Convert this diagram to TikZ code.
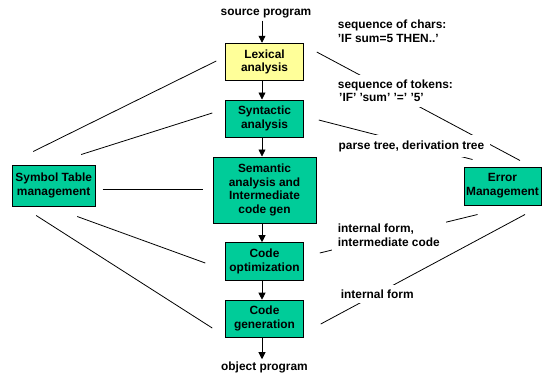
\documentclass[tikz,border=0pt]{standalone}
\usepackage{fontspec}
\setmainfont{Liberation Sans}
\usetikzlibrary{arrows.meta}
\definecolor{boxgreen}{RGB}{0,204,153}
\definecolor{boxyellow}{RGB}{255,255,153}
\begin{document}
\begin{tikzpicture}[x=1pt,y=-1pt,
  every node/.style={font=\fontsize{11.9}{13.8}\selectfont\bfseries},
  phase/.style={draw=black, line width=1pt, fill=boxgreen, align=center, inner sep=0pt},
  lbl/.style={align=left, anchor=west, fill=white, inner xsep=6pt, inner ysep=5pt},
  endtxt/.style={inner sep=2pt},
  link/.style={line width=0.8pt},
  flow/.style={line width=0.8pt, -{Triangle[width=7pt,length=7pt]}}
]
\useasboundingbox (0,0) rectangle (543,376);
% boxes
\node[phase, fill=boxyellow, minimum width=77.5pt, minimum height=37.5pt] (lex) at (264.5,62) {Lexical\\analysis};
\node[phase, minimum width=77.5pt, minimum height=37pt] (syn) at (264.5,118.5) {Syntactic\\analysis};
\node[phase, minimum width=103pt, minimum height=66pt] (sem) at (264.5,190) {Semantic\\analysis and\\Intermediate\\code gen};
\node[phase, minimum width=77.5pt, minimum height=38pt] (opt) at (264.5,261.7) {Code\\optimization};
\node[phase, minimum width=77.5pt, minimum height=37pt] (gen) at (264.5,318.7) {Code\\generation};
\node[phase, minimum width=83pt, minimum height=41pt] (sym) at (53.7,185.5) {Symbol Table\\management};
\node[phase, minimum width=77pt, minimum height=38pt] (err) at (502.5,186) {Error\\Management};
\node[endtxt] (src) at (266,14) {source program};
\node[endtxt] (obj) at (264.5,367) {object program};
% flow arrows
\draw[flow] ([xshift=-2.5pt]lex.north |- src.south) -- ([xshift=-2.5pt]lex.north);
\draw[flow] ([xshift=-2.5pt]lex.south) -- ([xshift=-2.5pt]syn.north);
\draw[flow] ([xshift=-2.5pt]syn.south) -- ([xshift=-2.5pt]sem.north);
\draw[flow] ([xshift=-2.5pt]sem.south) -- ([xshift=-2.5pt]opt.north);
\draw[flow] ([xshift=-2.5pt]opt.south) -- ([xshift=-2.5pt]gen.north);
\draw[flow] ([xshift=-2.5pt]gen.south) -- ([xshift=-2.5pt]gen.south |- obj.north);
% symbol table links
\draw[link] ([shift={(-20.5,-13)}]sym.north) -- ([shift={(-9,-1)}]lex.west);
\draw[link] ([shift={(27.5,-10)}]sym.north) -- ([shift={(-13,-5.5)}]syn.west);
\draw[link] ([shift={(7,4)}]sym.east) -- ([shift={(-10,-0.5)}]sem.west);
\draw[link] ([shift={(23.5,10)}]sym.south) -- ([shift={(-20,1.3)}]opt.west);
\draw[link] ([shift={(-17.5,9)}]sym.south) -- ([shift={(-13,9.3)}]gen.west);
% error management links
\draw[link] ([shift={(13,-10)}]lex.east) -- ([shift={(17.5,-6)}]err.north);
\draw[link] ([shift={(15,1.5)}]syn.east) -- ([shift={(9,-7)}]err.north west);
\draw[link] ([shift={(16,-8.7)}]opt.east) -- ([shift={(14,9)}]err.south west);
\draw[link] ([shift={(17,5.3)}]gen.east) -- ([shift={(22.5,9)}]err.south);
% labels
\node[lbl] (l1) at (331.7,31) {sequence of chars:\\'IF sum=5 THEN..'};
\node[lbl] (l2) at (331.7,90.8) {sequence of tokens:\\\hspace{1.3pt}'IF' 'sum' '=' '5'};
\node[lbl] (l3) at (332.5,146) {parse tree, derivation tree};
\node[lbl] (l4) at (331.7,235) {internal form,\\intermediate code};
\node[lbl] (l5) at (334.7,294) {internal form};
\end{tikzpicture}
\end{document}
